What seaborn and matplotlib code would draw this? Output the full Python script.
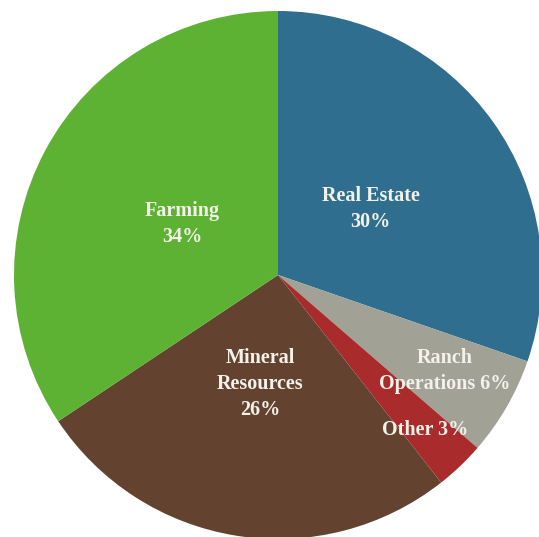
import numpy as np
import matplotlib
matplotlib.use("Agg")
import matplotlib.pyplot as plt
import seaborn as sns

categories = ["Real Estate", "Ranch\nOperations", "Other", "Mineral\nResources", "Farming"]
shares = [30, 6, 3, 26, 34]
label_texts = ["Real Estate\n30%", "Ranch\nOperations 6%", "Other 3%",
               "Mineral\nResources\n26%", "Farming\n34%"]
label_radius = [0.43, 0.73, 0.81, 0.42, 0.41]
colors = ["#2f6e8f", "#a2a195", "#aa2b2b", "#634330", "#5db234"]

sns.set_theme(style="white")
plt.rcParams["font.family"] = ["Liberation Serif", "DejaVu Serif"]

fig = plt.figure(figsize=(5.39, 5.37), dpi=100)
ax = fig.add_axes([0, 0, 1, 1])

# centre in pixel units, y measured from the bottom
cx, cy, R = 278, 537 - 275, 264
wedges, _ = ax.pie(shares, colors=colors, startangle=90, counterclock=False,
                   center=(cx, cy), radius=R,
                   wedgeprops=dict(linewidth=0, edgecolor="none"))

for w, txt, rf in zip(wedges, label_texts, label_radius):
    mid = np.deg2rad((w.theta1 + w.theta2) / 2)
    x = cx + rf * R * np.cos(mid)
    y = cy + rf * R * np.sin(mid)
    ax.text(x, y, txt, ha="center", va="center", color="#f3f1e9",
            fontsize=14.5, fontweight="bold", linespacing=1.4)

ax.set_xlim(0, 539)
ax.set_ylim(0, 537)
ax.set_aspect("equal")
ax.axis("off")

plt.savefig("out.png", dpi=100, facecolor="white")
